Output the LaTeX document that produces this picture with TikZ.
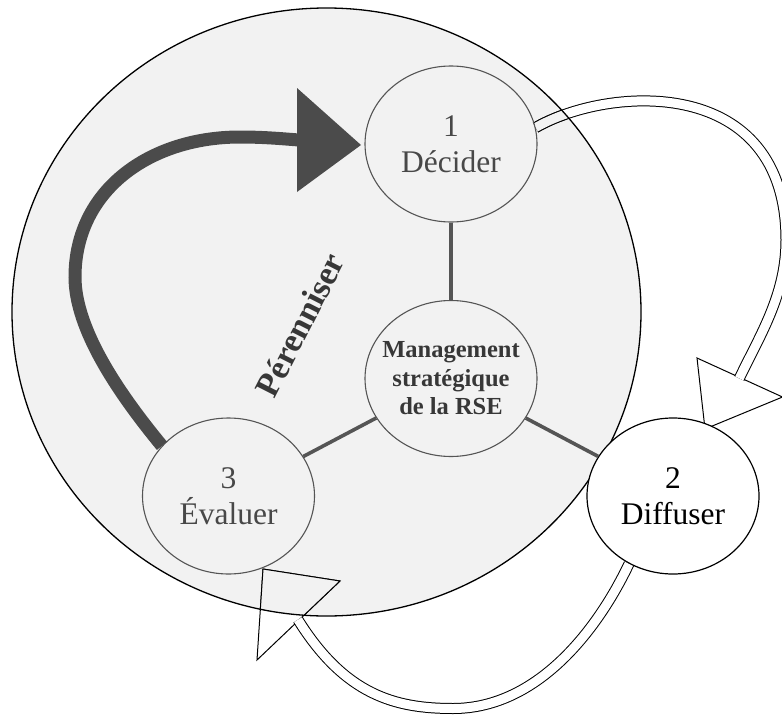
\documentclass[tikz,border=0pt]{standalone}
\usepackage{fontspec}
\setmainfont{Liberation Serif}
\usetikzlibrary{shapes.geometric}
\pgfdeclarelayer{bg}
\pgfdeclarelayer{mid}
\pgfsetlayers{bg,mid,main}
\definecolor{bigfill}{RGB}{242,242,242}
\definecolor{ink}{RGB}{85,85,85}
\definecolor{heavy}{RGB}{75,75,75}
\definecolor{txt}{RGB}{72,72,72}
\definecolor{mtxt}{RGB}{55,55,55}
\begin{document}
\begin{tikzpicture}[x=1pt,y=-1pt,
  stage/.style={ellipse, draw=ink, line width=1.1pt, minimum width=172pt, minimum height=156pt, inner sep=0pt},
  stagetext/.style={align=center, inner sep=0pt, text=txt, font=\fontsize{31.5}{36}\selectfont},
  link/.style={draw=ink, line width=3.6pt},
  band/.style={draw=black, line width=1pt, double=#1, double distance=9pt},
  head/.style={draw=black, line width=1pt, line join=miter},
]
\useasboundingbox (0,0) rectangle (782,715);
\clip (0,0) rectangle (782,715);
\def\bigc{(326.5,312) ellipse [x radius=314.5, y radius=304]}

% stages
\node[stage] (d) at (451,144) {};
\node[stage] (m) at (451,378.5) {};
\node[stage] (e) at (228.5,496) {};
\node[stage, draw=black, fill=white, line width=1.2pt] (f) at (673,496) {};

\node[stagetext] (dt) at (d) {1\\Décider};
\node[stagetext] (et) at (e) {3\\Évaluer};
\node[stagetext, text=black] (ft) at (f) {2\\Diffuser};
\node[align=center, inner sep=0pt, text=mtxt, font=\fontsize{24.5}{28.5}\selectfont\bfseries] (mt) at (m) {Management\\stratégique\\de la RSE};

% connectors
\draw[link] (d) -- (m);
\draw[link] (m) -- (e);
\draw[link] (m) -- (f);

% arrow coordinates
\coordinate (h1a) at (697,358);
\coordinate (h1b) at (782.5,397);
\coordinate (h1t) at (705,429);
\coordinate (a1e) at (739.3,378.4);
\coordinate (h2a) at (340,581);
\coordinate (h2b) at (257,660);
\coordinate (h2t) at (263,569);
\coordinate (a2e) at (297.95,619.7);
\coordinate (pa) at (297,88);
\coordinate (pb) at (297,192);
\coordinate (pt) at (361,145);

\begin{pgfonlayer}{bg}
  \fill[bigfill] \bigc;
\end{pgfonlayer}

\begin{pgfonlayer}{mid}
  \draw[head, fill=white] (h1a) -- (h1b) -- (h1t) -- cycle;
  \draw[band=white] (d.11) .. controls (610,85) and (786,75) .. (786,240) .. controls (786,295) and (760,335) .. (a1e);
  \draw[head, fill=white] (h2a) -- (h2b) -- (h2t) -- cycle;
  \draw[band=white] (f.237) .. controls (600,625) and (540,708.5) .. (453,708.5) .. controls (395,708.5) and (345,695) .. (a2e);
  \begin{scope}
    \clip \bigc;
    \draw[head, fill=bigfill] (h1a) -- (h1b) -- (h1t) -- cycle;
    \draw[band=bigfill] (d.11) .. controls (610,85) and (786,75) .. (786,240) .. controls (786,295) and (760,335) .. (a1e);
    \draw[head, fill=bigfill] (h2a) -- (h2b) -- (h2t) -- cycle;
    \draw[band=bigfill] (f.237) .. controls (600,625) and (540,708.5) .. (453,708.5) .. controls (395,708.5) and (345,695) .. (a2e);
  \end{scope}
  \draw[black, line width=1.3pt] \bigc;
\end{pgfonlayer}

% Perenniser arrow
\draw[heavy, line width=13pt] (e.143) .. controls (120,395) and (75,330) .. (75,277) .. controls (75,190) and (150,137) .. (240,137) .. controls (265,137) and (285,139) .. (299,140);
\fill[heavy] (pa) -- (pt) -- (pb) -- cycle;
\node[rotate=63, inner sep=0pt, text=mtxt, font=\fontsize{34}{40}\selectfont\bfseries] (per) at (300,325) {Pérenniser};
\end{tikzpicture}
\end{document}
